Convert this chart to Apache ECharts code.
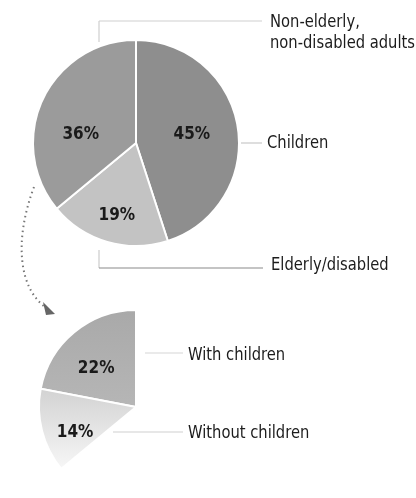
<!DOCTYPE html>
<html><head><meta charset="utf-8">
<script src="https://cdn.jsdelivr.net/npm/echarts@6/dist/echarts.min.js"></script>
<style>html,body{margin:0;padding:0;background:#fff}#c{width:416px;height:498px}</style>
</head><body><div id="c"></div>
<script>
var categories = ['Children', 'Elderly/disabled', 'Non-elderly,\nnon-disabled adults'];
var shares = [45, 19, 36];
var subCategories = ['With children', 'Without children'];
var subShares = [22, 14];

var FONT = '"Liberation Sans Narrow","DejaVu Sans Condensed","Noto Sans",sans-serif';
var chart = echarts.init(document.getElementById('c'), null, {renderer: 'canvas'});

var mainColors = ['#8e8e8e', '#c3c3c3', '#9b9b9b'];
var mainOffsets = [[2, 0], [-4, 20], [-6, 15]];
var subOffsets = [[-7, 1], [-11, 13]];

var mainData = shares.map(function (v, i) {
  return {name: categories[i], value: v, itemStyle: {color: mainColors[i]}};
});
var subColors = [
  new echarts.graphic.LinearGradient(0, 0, 0, 1, [{offset: 0, color: '#a9a9a9'}, {offset: 1, color: '#b6b6b6'}]),
  new echarts.graphic.LinearGradient(0, 0, 0, 1, [{offset: 0, color: '#d2d2d2'}, {offset: 1, color: '#f7f7f7'}])
];
var subData = subShares.map(function (v, i) {
  return {name: subCategories[i], value: v, itemStyle: {color: subColors[i]}};
});
// remaining part of the whole (children + elderly/disabled), hidden
subData.push({name: 'rest', value: shares[0] + shares[1],
  itemStyle: {color: 'rgba(0,0,0,0)', borderWidth: 0}, label: {show: false}, emphasis: {disabled: true}});

var pctLabel = {show: true, position: 'inside', formatter: '{c}%', fontFamily: FONT,
  fontWeight: 'bold', fontSize: 17, color: '#1a1a1a'};

function txt(x, y, s, lh) {
  return {type: 'text', x: x, y: y, scaleX: 0.91, scaleY: 1,
    style: {text: s, lineHeight: lh || 20, fontFamily: FONT, fontSize: 18, fill: '#1c1c1c',
      verticalAlign: 'middle', align: 'left'}};
}
function ln(x1, y1, x2, y2, c) {
  return {type: 'line', shape: {x1: x1, y1: y1, x2: x2, y2: y2}, style: {stroke: c, lineWidth: 1.2}};
}

chart.setOption({
  animation: false,
  backgroundColor: '#ffffff',
  series: [
    {
      type: 'pie', center: [136, 143], radius: 103, startAngle: 90, clockwise: true,
      silent: true,
      itemStyle: {borderColor: '#ffffff', borderWidth: 2},
      label: pctLabel, labelLine: {show: false},
      labelLayout: function (p) { return {dx: mainOffsets[p.dataIndex][0], dy: mainOffsets[p.dataIndex][1]}; },
      data: mainData
    },
    {
      type: 'pie', center: [136, 407], radius: 97, startAngle: 90, clockwise: false,
      silent: true,
      itemStyle: {borderColor: '#ffffff', borderWidth: 2},
      label: pctLabel, labelLine: {show: false},
      labelLayout: function (p) { var o = subOffsets[p.dataIndex] || [0, 0]; return {dx: o[0], dy: o[1]}; },
      data: subData
    }
  ],
  graphic: [
    ln(99, 42, 99, 21, '#cfcfcf'), ln(99, 21, 262, 21, '#cfcfcf'),
    ln(241, 143, 262, 143, '#c8c8c8'),
    ln(99, 250, 99, 268, '#cccccc'), ln(99, 268, 263, 268, '#8a8a8a'),
    ln(145, 353, 183, 353, '#d6d6d6'),
    ln(113, 432, 183, 432, '#cfcfcf'),
    txt(270, 33, categories[2], 21),
    txt(267, 143, categories[0]),
    txt(271, 265, categories[1]),
    txt(188, 355, subCategories[0]),
    txt(188, 433, subCategories[1]),
    {type: 'bezierCurve', shape: {x1: 34, y1: 187, cpx1: 14, cpy1: 240, cpx2: 18, cpy2: 290, x2: 48, y2: 309},
      style: {stroke: '#777', lineWidth: 2, lineDash: [1.5, 3.5], fill: null}},
    {type: 'polygon', shape: {points: [[43, 302], [55, 314], [46, 315]]}, style: {fill: '#666'}}
  ]
});
</script></body></html>
